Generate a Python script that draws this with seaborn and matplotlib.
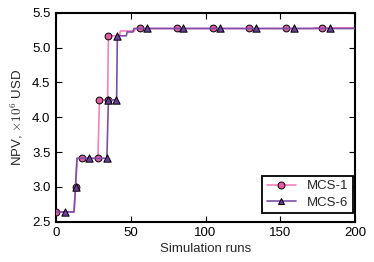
import matplotlib
matplotlib.use("Agg")
import matplotlib.pyplot as plt
import seaborn as sns
import pandas as pd
from matplotlib.lines import Line2D

# ---- data ----
series_names = ["MCS-1", "MCS-6"]

# best-so-far NPV curve knots (simulation run, NPV x1e6 USD)
mcs1_runs = [0, 12, 13, 14, 28, 29, 34.5, 35, 42.5, 43, 52.5, 53, 172, 173, 200]
mcs1_npv = [2.64, 2.64, 3.00, 3.41, 3.41, 4.25, 4.25, 5.17, 5.17, 5.24, 5.24, 5.275, 5.275, 5.285, 5.285]
mcs6_runs = [0, 12, 13, 14, 34, 35, 40.5, 41, 47, 47.5, 51.5, 52, 200]
mcs6_npv = [2.64, 2.64, 3.00, 3.41, 3.41, 4.25, 4.25, 5.17, 5.17, 5.225, 5.225, 5.275, 5.275]

# marker positions
mcs1_mk_runs = [0, 13, 17, 28, 29, 34.5, 35, 56, 81, 105, 129, 154, 178]
mcs1_mk_npv = [2.64, 3.00, 3.41, 3.41, 4.25, 4.25, 5.17, 5.275, 5.275, 5.275, 5.275, 5.275, 5.285]
mcs6_mk_runs = [6, 13, 22, 34, 34.5, 40.2, 41, 61, 85, 110, 134, 159, 183]
mcs6_mk_npv = [2.64, 3.00, 3.41, 3.41, 4.25, 4.25, 5.17, 5.275, 5.275, 5.275, 5.275, 5.275, 5.275]

x_ticks = [0, 50, 100, 150, 200]
y_ticks = [2.5, 3.0, 3.5, 4.0, 4.5, 5.0, 5.5]

# ---- style ----
sns.set_style("ticks")
plt.rcParams["font.family"] = ["Liberation Sans", "DejaVu Sans"]
plt.rcParams["mathtext.fontset"] = "cm"
plt.rcParams["font.size"] = 9.5

line_colors = ["#f77fbe", "#7d4fa8"]
fill_colors = ["#e45ca3", "#6a3d9a"]
markers = ["o", "^"]

fig = plt.figure(figsize=(3.74, 2.62), dpi=100)
ax = fig.add_axes([0.150, 0.154, 0.799, 0.797])

curves = [
    pd.DataFrame({"run": mcs1_runs, "npv": mcs1_npv}),
    pd.DataFrame({"run": mcs6_runs, "npv": mcs6_npv}),
]
marks = [
    pd.DataFrame({"run": mcs1_mk_runs, "npv": mcs1_mk_npv}),
    pd.DataFrame({"run": mcs6_mk_runs, "npv": mcs6_mk_npv}),
]
sizes = [24, 28]

for i in range(2):
    sns.lineplot(data=curves[i], x="run", y="npv", ax=ax, color=line_colors[i],
                 linewidth=1.2, sort=False, estimator=None, legend=False,
                 zorder=2 + 2 * i)
    sns.scatterplot(data=marks[i], x="run", y="npv", ax=ax, marker=markers[i],
                    s=sizes[i], color=fill_colors[i], edgecolor="black",
                    linewidth=0.7, legend=False, zorder=3 + 2 * i)

ax.set_xlim(0, 200)
ax.set_ylim(2.5, 5.5)
ax.set_xticks(x_ticks)
ax.set_yticks(y_ticks)
ax.set_xticklabels([str(t) for t in x_ticks])
ax.set_yticklabels([f"{t:.1f}" for t in y_ticks])
ax.set_xlabel("Simulation runs", fontsize=9.5, labelpad=3)
ax.set_ylabel(r"NPV, $\times 10^6$ USD", fontsize=9.5, labelpad=5)

for sp in ax.spines.values():
    sp.set_visible(True)
    sp.set_linewidth(1.5)
    sp.set_color("black")
ax.tick_params(direction="in", length=4, width=0.8, top=True, right=True,
               labelsize=9.5, pad=4, colors="black")

handles = [
    Line2D([], [], color=line_colors[i], lw=1.2, marker=markers[i],
           markerfacecolor=fill_colors[i], markeredgecolor="black",
           markeredgewidth=0.7, markersize=5)
    for i in range(2)
]
leg = ax.legend(handles, series_names, loc="lower right",
                bbox_to_anchor=(0.992, 0.04), borderaxespad=0,
                frameon=True, fancybox=False, edgecolor="black", fontsize=9.5,
                handlelength=2.2, labelspacing=0.3,
                borderpad=0.35, handletextpad=0.8)
leg.get_frame().set_linewidth(1.3)
leg.get_frame().set_alpha(1)

fig.savefig("out.png", dpi=100)
